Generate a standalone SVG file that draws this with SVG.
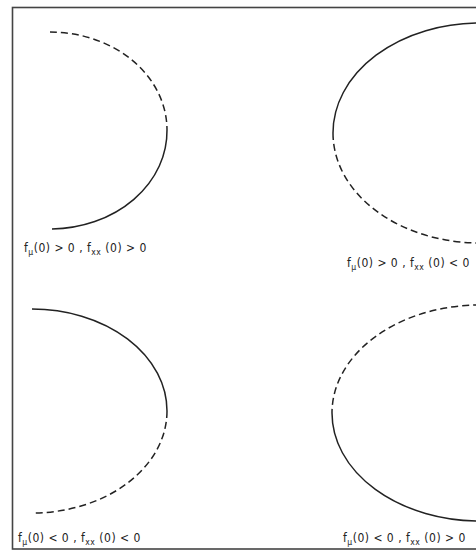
<svg xmlns="http://www.w3.org/2000/svg" width="476" height="552" viewBox="0 0 476 552">
<style>
.frame{fill:none;stroke:#444;stroke-width:1.6}
.solid{fill:none;stroke:#222;stroke-width:1.5}
.dash{fill:none;stroke:#222;stroke-width:1.5;stroke-dasharray:7 4}
.lbl{font-family:"DejaVu Sans Condensed","Liberation Sans",sans-serif;font-size:12px;letter-spacing:0.5px;fill:#222}
.sub{font-size:8.5px}
</style>
<rect width="476" height="552" fill="#fff"/>
<rect class="frame" x="12.5" y="7.5" width="480" height="541.5"/>
<g id="curves">
<g id="curve-tl">
<path class="dash" d="M50,32 A117,98 0 0 1 167,130"/>
<path class="solid" d="M167,130 A117,98 0 0 1 52,229"/>
</g>
<g id="curve-tr">
<path class="solid" d="M480,23 A147,110 0 0 0 333,133"/>
<path class="dash" d="M333,133 A147,110 0 0 0 480,243"/>
</g>
<g id="curve-bl">
<path class="solid" d="M32,309 A135,102 0 0 1 167,411"/>
<path class="dash" d="M167,411 A135,102 0 0 1 32,513"/>
</g>
<g id="curve-br">
<path class="dash" d="M480,305 A148,108 0 0 0 332,413"/>
<path class="solid" d="M332,413 A148,108 0 0 0 480,521"/>
</g>
</g>
<g id="label-tl"><text class="lbl" x="24" y="252">f<tspan class="sub" dy="3">μ</tspan><tspan dy="-3">(0) &gt; 0 ,  f</tspan><tspan class="sub" dy="3">xx</tspan><tspan dy="-3">  (0) &gt; 0</tspan></text></g>
<g id="label-tr"><text class="lbl" x="347" y="267">f<tspan class="sub" dy="3">μ</tspan><tspan dy="-3">(0) &gt; 0 ,   f</tspan><tspan class="sub" dy="3">xx</tspan><tspan dy="-3">  (0) &lt; 0</tspan></text></g>
<g id="label-bl"><text class="lbl" x="18" y="542">f<tspan class="sub" dy="3">μ</tspan><tspan dy="-3">(0) &lt; 0 ,  f</tspan><tspan class="sub" dy="3">xx</tspan><tspan dy="-3">  (0) &lt; 0</tspan></text></g>
<g id="label-br"><text class="lbl" x="343" y="542">f<tspan class="sub" dy="3">μ</tspan><tspan dy="-3">(0) &lt; 0 ,  f</tspan><tspan class="sub" dy="3">xx</tspan><tspan dy="-3">  (0) &gt; 0</tspan></text></g>
</svg>
